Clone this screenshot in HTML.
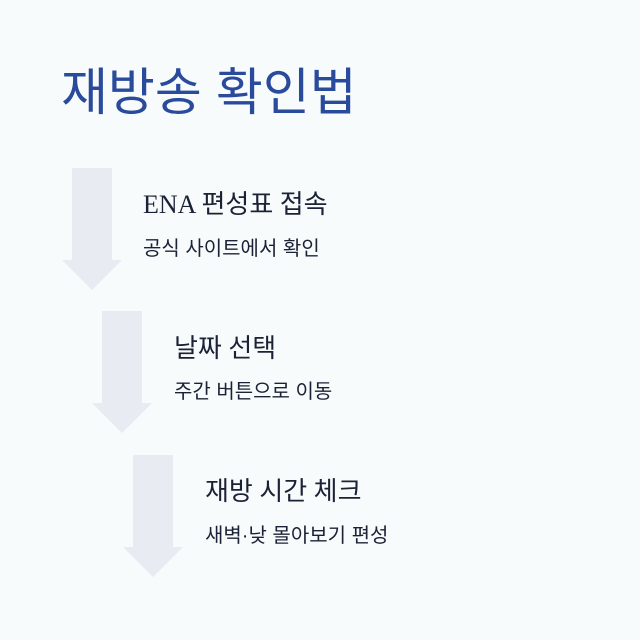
<!DOCTYPE html>
<html><head><meta charset="utf-8"><style>
body{margin:0;width:640px;height:640px;background:#f7fbfc;position:relative;overflow:hidden;font-family:"Liberation Sans","Noto Sans CJK KR",sans-serif}
.t{position:absolute;white-space:nowrap;line-height:1}
h1{position:absolute;left:61px;top:67px;margin:0;font-size:51px;font-weight:400;color:#2a4b9c;line-height:1;font-family:"Liberation Sans","Noto Sans CJK KR",sans-serif}
.s{font-size:26px;color:#1c2236;font-family:"Liberation Serif","Noto Sans CJK KR",serif}
.d{font-size:20px;color:#1c2236}
</style></head><body>
<h1>재방송 확인법</h1>
<svg width="640" height="640" style="position:absolute;left:0;top:0">
<g fill="#e8ebf2">
<polygon points="72,168 112,168 112,260 122,260 92,290 62,260 72,260"/>
<polygon points="102,311 142,311 142,403 152,403 122,433 92,403 102,403"/>
<polygon points="133,455 173,455 173,547 183,547 153,577 123,547 133,547"/>
</g></svg>
<div class="t s" style="left:143px;top:192px">ENA 편성표 접속</div>
<div class="t d" style="left:143px;top:239px">공식 사이트에서 확인</div>
<div class="t s" style="left:174px;top:336px">날짜 선택</div>
<div class="t d" style="left:174px;top:382px">주간 버튼으로 이동</div>
<div class="t s" style="left:205px;top:479px">재방 시간 체크</div>
<div class="t d" style="left:205px;top:526px">새벽·낮 몰아보기 편성</div>
</body></html>
